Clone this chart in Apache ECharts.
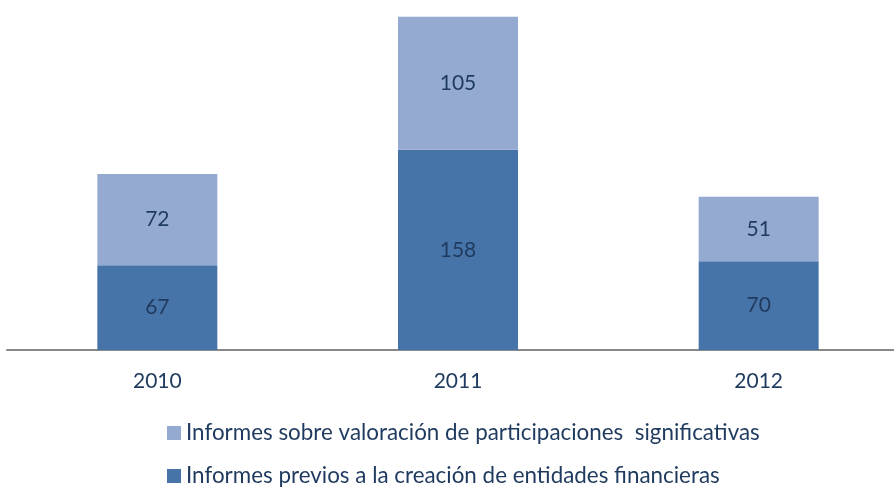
<!DOCTYPE html>
<html>
<head>
<meta charset="utf-8">
<script src="https://cdn.jsdelivr.net/npm/echarts@6/dist/echarts.min.js"></script>
<style>
	html, body { margin: 0; padding: 0; background: #fff; }
	#chartBox { width: 894px; height: 491px; }
</style>
</head>
<body>
<div id="chartBox"></div>
<script>
// datos del gráfico
const years = ['2010', '2011', '2012'];
const previos = [67, 158, 70];
const valoracion = [72, 105, 51];
const nombrePrevios = 'Informes previos a la creación de entidades financieras';
const nombreValoracion = 'Informes sobre valoración de participaciones  significativas';

const txtColor = '#1F3A5F';
const fontName = 'Lato, "Open Sans", sans-serif';

let myChart = echarts.init(document.getElementById('chartBox'));
let labelStyle = {
	show: true,
	position: 'inside',
	color: txtColor,
	fontSize: 21,
	fontFamily: fontName
};
//una leyenda por fila
function makeLegend(name, top) {
	return {
		orient: 'vertical',
		left: 167,
		top: top,
		padding: 0,
		itemWidth: 14,
		itemHeight: 14,
		icon: 'rect',
		data: [name],
		textStyle: {
			color: txtColor,
			fontSize: 22.4,
			fontFamily: fontName
		}
	};
}
let option = {
	backgroundColor: '#fff',
	animation: false,
	grid: {
		left: 7,
		width: 902,
		top: 8,
		bottom: 141,
		outerBoundsMode: 'none'
	},
	legend: [
		makeLegend(nombreValoracion, 422),
		makeLegend(nombrePrevios, 465)
	],
	xAxis: {
		type: 'category',
		data: years,
		axisLine: { lineStyle: { color: '#888888', width: 2 } },
		axisTick: { show: false },
		axisLabel: {
			color: txtColor,
			fontSize: 21,
			fontFamily: fontName,
			margin: 21
		}
	},
	yAxis: {
		type: 'value',
		min: 0,
		max: 270,
		show: false,
		splitLine: { show: false }
	},
	series: [
		{
			name: nombrePrevios,
			type: 'bar',
			stack: 'total',
			barWidth: 120,
			data: previos,
			itemStyle: { color: '#4774A8' },
			label: labelStyle
		},
		{
			name: nombreValoracion,
			type: 'bar',
			stack: 'total',
			barWidth: 120,
			data: valoracion,
			itemStyle: { color: '#95AAD0' },
			label: labelStyle
		}
	]
};
myChart.setOption(option, true);
</script>
</body>
</html>
